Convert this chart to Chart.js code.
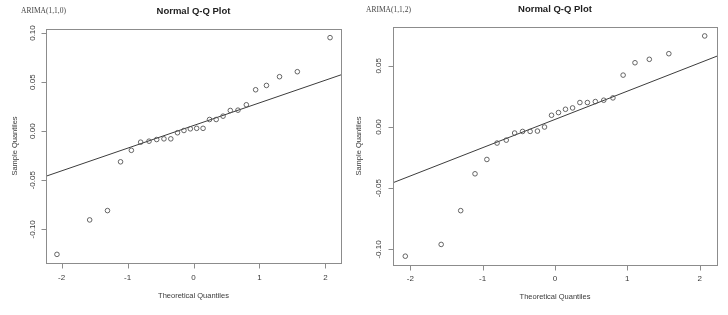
<!DOCTYPE html>
<html>
<head>
<meta charset="utf-8">
<script src="https://cdn.jsdelivr.net/npm/chart.js@4.4.1/dist/chart.umd.min.js"></script>
<style>
  body { margin: 0; background: #fff; }
  #wrap { position: relative; width: 728px; height: 315px; overflow: hidden; }
  canvas { position: absolute; top: 0; }
</style>
</head>
<body>
<div id="wrap">
  <canvas id="qq110" width="350" height="315" style="left:0px"></canvas>
  <canvas id="qq112" width="378" height="315" style="left:350px"></canvas>
</div>
<script>
// theoretical normal quantiles (26 residuals)
const theoQ = [-2.070, -1.574, -1.304, -1.106, -0.942, -0.801, -0.674, -0.558, -0.448, -0.344,
  -0.243, -0.145, -0.048, 0.048, 0.145, 0.243, 0.344, 0.448, 0.558, 0.674,
  0.801, 0.942, 1.106, 1.304, 1.574, 2.070];

// sorted sample quantiles
const sample110 = [-0.1255, -0.0904, -0.0809, -0.0312, -0.0195, -0.0112, -0.0102, -0.0085, -0.0078, -0.0078,
  -0.0016, 0.0007, 0.0024, 0.0029, 0.0029, 0.0119, 0.0119, 0.0153, 0.0211, 0.0214,
  0.0269, 0.0422, 0.0466, 0.0555, 0.0606, 0.0953];
const sample112 = [-0.1055, -0.0959, -0.0683, -0.0382, -0.0265, -0.0131, -0.0107, -0.0049, -0.0036, -0.0036,
  -0.0033, 0.0000, 0.0096, 0.0118, 0.0145, 0.0156, 0.0200, 0.0200, 0.0208, 0.0219,
  0.0238, 0.0424, 0.0525, 0.0553, 0.0599, 0.0744];

// qqline end points at the plot edges
const line110X = [-2.236, 2.236];
const line110Y = [-0.0459, 0.0574];
const line112X = [-2.24, 2.24];
const line112Y = [-0.0455, 0.0579];

// ticks
const xTicks = [-2, -1, 0, 1, 2];
const xTickLabels = ['-2', '-1', '0', '1', '2'];
const yTicks110 = [-0.10, -0.05, 0, 0.05, 0.10];
const yTickLabels110 = ['-0.10', '-0.05', '0.00', '0.05', '0.10'];
const yTicks112 = [-0.10, -0.05, 0, 0.05];
const yTickLabels112 = ['-0.10', '-0.05', '0.00', '0.05'];

// R style axes, box and labels drawn on top of the chart area
const rAxes = {
  id: 'rAxes',
  afterDraw(chart, args, o) {
    const { ctx, chartArea: a, scales: { x, y } } = chart;
    ctx.save();
    ctx.strokeStyle = '#8c8c8c';
    ctx.lineWidth = 1;
    const L = Math.round(a.left) + 0.5, R = Math.round(a.right) + 0.5;
    const T = Math.round(a.top) + 0.5, B = Math.round(a.bottom) + 0.5;
    ctx.strokeRect(L, T, R - L, B - T);

    // tick marks
    ctx.beginPath();
    o.xTicks.forEach(v => {
      const px = Math.round(x.getPixelForValue(v)) + 0.5;
      ctx.moveTo(px, B); ctx.lineTo(px, B + 5);
    });
    o.yTicks.forEach(v => {
      const py = Math.round(y.getPixelForValue(v)) + 0.5;
      ctx.moveTo(L, py); ctx.lineTo(L - 5, py);
    });
    ctx.stroke();

    ctx.fillStyle = '#3a3a3a';
    ctx.textAlign = 'center';
    ctx.textBaseline = 'middle';

    // x tick labels
    ctx.font = '8px "Liberation Sans"';
    o.xTicks.forEach((v, i) => {
      ctx.fillText(o.xLabels[i], x.getPixelForValue(v), a.bottom + o.xLabelOff);
    });
    // y tick labels, rotated like R
    o.yTicks.forEach((v, i) => {
      ctx.save();
      ctx.translate(a.left - o.yLabelOff, y.getPixelForValue(v));
      ctx.rotate(-Math.PI / 2);
      ctx.fillText(o.yLabels[i], 0, 0);
      ctx.restore();
    });

    // axis titles
    ctx.font = '7.5px "Liberation Sans"';
    ctx.fillText('Theoretical Quantiles', (a.left + a.right) / 2, a.bottom + o.xTitleOff);
    ctx.save();
    ctx.translate(a.left - o.yTitleOff, (a.top + a.bottom) / 2);
    ctx.rotate(-Math.PI / 2);
    ctx.fillText('Sample Quantiles', 0, 0);
    ctx.restore();

    // main title
    ctx.fillStyle = '#222';
    ctx.font = 'bold 9.5px "Liberation Sans"';
    ctx.fillText('Normal Q-Q Plot', (a.left + a.right) / 2, o.titleY);

    // model label
    ctx.fillStyle = '#444';
    ctx.font = '7.5px "Liberation Serif"';
    ctx.textAlign = 'left';
    ctx.fillText(o.model, o.modelX, o.modelY);
    ctx.restore();
  }
};

function qqChart(id, sample, lineX, lineY, xLim, yLim, deco) {
  return new Chart(document.getElementById(id), {
    type: 'scatter',
    data: {
      datasets: [
        {
          data: theoQ.map((q, i) => ({ x: q, y: sample[i] })),
          pointStyle: 'circle',
          pointRadius: 2.3,
          borderWidth: 0.9,
          borderColor: '#555',
          backgroundColor: 'rgba(0,0,0,0)',
        },
        {
          type: 'line',
          data: lineX.map((v, i) => ({ x: v, y: lineY[i] })),
          borderColor: '#3c3c3c',
          borderWidth: 1,
          pointRadius: 0,
          fill: false,
        },
      ],
    },
    options: {
      responsive: false,
      animation: false,
      events: [],
      layout: { padding: deco.pad },
      plugins: {
        legend: { display: false },
        tooltip: { enabled: false },
        rAxes: deco,
      },
      scales: {
        x: { type: 'linear', display: false, min: xLim[0], max: xLim[1] },
        y: { type: 'linear', display: false, min: yLim[0], max: yLim[1] },
      },
    },
    plugins: [rAxes],
  });
}

qqChart('qq110', sample110, line110X, line110Y, [-2.236, 2.236], [-0.1343, 0.1041], {
  pad: { left: 46, right: 9, top: 29, bottom: 52 },
  xTicks, xLabels: xTickLabels, yTicks: yTicks110, yLabels: yTickLabels110,
  xLabelOff: 14.7, yLabelOff: 13, xTitleOff: 32.7, yTitleOff: 31,
  titleY: 11, model: 'ARIMA(1,1,0)', modelX: 21, modelY: 11,
});

qqChart('qq112', sample112, line112X, line112Y, [-2.24, 2.24], [-0.1127, 0.0817], {
  pad: { left: 43, right: 11, top: 27, bottom: 50 },
  xTicks, xLabels: xTickLabels, yTicks: yTicks112, yLabels: yTickLabels112,
  xLabelOff: 13.3, yLabelOff: 14, xTitleOff: 31.7, yTitleOff: 34.3,
  titleY: 9.5, model: 'ARIMA(1,1,2)', modelX: 16, modelY: 10,
});
</script>
</body>
</html>
